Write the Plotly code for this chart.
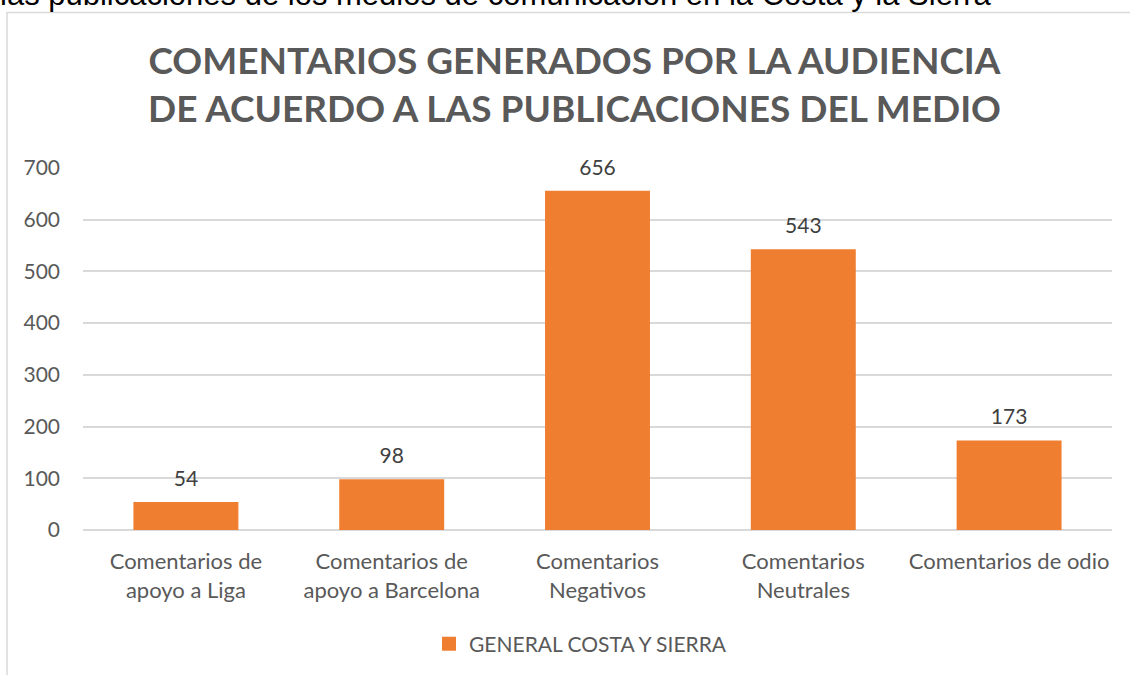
import plotly.graph_objects as go

categories = ["Comentarios de<br>apoyo a Liga", "Comentarios de<br>apoyo a Barcelona",
              "Comentarios<br>Negativos", "Comentarios<br>Neutrales", "Comentarios de odio"]
values = [54, 98, 656, 543, 173]
series_name = "GENERAL COSTA Y SIERRA"
title_lines = ["COMENTARIOS GENERADOS POR LA AUDIENCIA", "DE ACUERDO A LAS PUBLICACIONES DEL MEDIO"]
top_text = "las publicaciones de los medios de comunicación en la Costa y la Sierra"

W, H = 1130, 675
L, R, T, B = 83, 18, 168, 144
pw, ph = W - L - R, H - T - B
FONT = "Lato, 'Open Sans', sans-serif"
BAR = "#F07E31"

fig = go.Figure()
fig.add_trace(go.Bar(
    x=categories, y=values, name=series_name,
    marker=dict(color=BAR, line=dict(width=0)),
    showlegend=False, hoverinfo="x+y",
))
# data labels placed a little above each bar
fig.add_trace(go.Scatter(
    x=categories, y=values, mode="markers+text",
    text=[str(v) for v in values], textposition="top center",
    textfont=dict(size=21, color="#404040", family=FONT),
    marker=dict(size=16, opacity=0), showlegend=False, hoverinfo="skip", cliponaxis=False,
))
# legend entry
fig.add_trace(go.Scatter(
    x=[None], y=[None], mode="markers", name=series_name,
    marker=dict(symbol="square", size=14, color=BAR), showlegend=True,
))

def px_x(p):
    return (p - L) / pw

def px_y(p):
    return (H - B - p) / ph

fig.update_layout(
    width=W, height=H,
    margin=dict(l=L, r=R, t=T, b=B),
    paper_bgcolor="white", plot_bgcolor="white",
    bargap=0.49,
    font=dict(family=FONT, color="#595959", size=21),
    showlegend=True,
    legend=dict(orientation="h", x=px_x(429), xanchor="left", y=px_y(644), yanchor="middle",
                font=dict(size=21, color="#595959", family=FONT), itemwidth=30),
    xaxis=dict(showgrid=False, showline=False, ticks="", tickfont=dict(size=22, color="#595959"),
               ticklabelstandoff=16),
    yaxis=dict(range=[0, 700], dtick=100, showgrid=True, gridcolor="#D9D9D9", gridwidth=1.5,
               zeroline=True, zerolinecolor="#D9D9D9", zerolinewidth=1.5,
               tickfont=dict(size=21, color="#595959"), ticks="", ticklabelstandoff=22),
    shapes=[dict(type="rect", xref="paper", yref="paper",
                 x0=px_x(7), x1=px_x(W + 20), y0=px_y(H + 20), y1=px_y(12),
                 line=dict(color="#D9D9D9", width=1.5), fillcolor="rgba(0,0,0,0)", layer="below")],
    annotations=[
        dict(text="<b>" + title_lines[0] + "<br>" + title_lines[1] + "</b>", xref="paper", yref="paper",
             x=px_x(574), y=px_y(83), xanchor="center", yanchor="middle", showarrow=False,
             font=dict(size=37, color="#595959", family=FONT)),
        dict(text=top_text, xref="paper", yref="paper", x=px_x(-2), y=px_y(-6),
             xanchor="left", yanchor="middle", showarrow=False,
             font=dict(size=31, color="#000000", family="'Liberation Sans', sans-serif")),
    ],
)

fig.write_html("out.html", config={"displayModeBar": False},
               post_script="document.body.style.margin='0px';")
